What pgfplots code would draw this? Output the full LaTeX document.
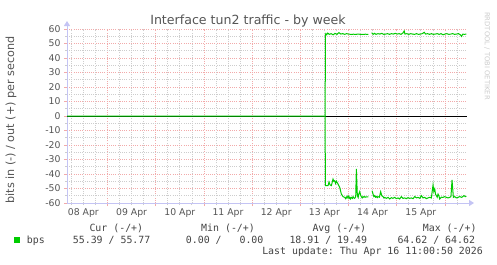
\documentclass[border=0pt]{standalone}
\usepackage{pgfplots}
\pgfplotsset{compat=1.18}
\usepackage{fontspec}
\setmainfont{DejaVu Sans}
\setmonofont{DejaVu Sans Mono}
\usetikzlibrary{arrows.meta}
\definecolor{rrdgreen}{HTML}{00CC00}
\definecolor{axiscol}{HTML}{C4C4F4}
\definecolor{mgridc}{HTML}{F2AAAA}
\definecolor{gridc}{HTML}{CDCDCD}
\definecolor{txt}{HTML}{555555}
\definecolor{legtxt}{HTML}{444444}
\definecolor{wm}{HTML}{CCCCCC}
\begin{document}
\begin{tikzpicture}[x=1bp,y=1bp]
\path[use as bounding box, fill=white] (0,0) rectangle (497,264);
\begin{axis}[
  at={(67bp,61bp)}, anchor=south west,
  scale only axis, width=400bp, height=174bp,
  xmin=-0.84, xmax=7.458, ymin=-60, ymax=60,
  axis lines=left,
  axis line style={draw=axiscol, line width=1bp},
  x axis line style={-{Triangle[length=5bp,width=6bp]}, shorten >=-7bp},
  y axis line style={-{Triangle[length=5bp,width=6bp]}, shorten >=-8bp},
  grid=both,
  major grid style={draw=mgridc, line width=0.7bp, dash pattern=on 1bp off 1.2bp},
  minor grid style={draw=gridc, line width=0.7bp, dash pattern=on 1bp off 1.2bp},
  xtick={0,1,2,3,4,5,6,7}, xticklabels={},
  minor xtick={-0.75,-0.5,-0.25,0.25,0.5,0.75,1.25,1.5,1.75,2.25,2.5,2.75,3.25,3.5,3.75,4.25,4.5,4.75,5.25,5.5,5.75,6.25,6.5,6.75,7.25},
  extra x ticks={-0.5,0.5,1.5,2.5,3.5,4.5,5.5,6.5},
  extra x tick labels={08 Apr,09 Apr,10 Apr,11 Apr,12 Apr,13 Apr,14 Apr,15 Apr},
  extra x tick style={grid=none, major tick length=0pt, xticklabel style={yshift=-2bp}},
  ytick={-60,-50,-40,-30,-20,-10,0,10,20,30,40,50,60},
  yticklabels={-60,-50,-40,-30,-20,-10,0,10,20,30,40,50,60},
  minor ytick={-55,-45,-35,-25,-15,-5,5,15,25,35,45,55},
  tick align=outside, major tick length=3bp, minor tick length=2bp,
  major tick style={draw=mgridc, line width=0.8bp},
  minor tick style={draw=gridc, line width=0.8bp},
  ticklabel style={font=\fontsize{9.3bp}{11bp}\selectfont, text=txt},
  unbounded coords=jump,
]
\addplot[black, line width=1bp] coordinates {(-0.84,0) (7.458,0)};
% in (-)
\addplot[rrdgreen, line width=1bp] coordinates {
(-0.84,0) (4.515,0) (4.519,-48) (4.575,-48) (4.595,-45.5) (4.616,-47.5) (4.644,-48) (4.678,-43.5) (4.695,-45) (4.713,-44.6) (4.73,-46.5) (4.748,-45) (4.782,-46.9) (4.817,-49.2) (4.851,-53.8) (4.886,-55.6) (4.920,-56.1) (4.94,-57) (4.955,-55.9) (4.97,-56.5) (4.990,-55) (5.01,-56.8) (5.024,-56) (5.04,-57.2) (5.059,-56.1) (5.08,-56.8) (5.093,-55.6) (5.11,-56.5) (5.128,-56.8) (5.149,-55.6) (5.163,-36.5) (5.183,-55) (5.20,-56.2) (5.211,-54) (5.232,-52.2) (5.25,-54.5) (5.266,-55.6) (5.283,-56.5) (5.301,-55.6) (5.32,-56) (5.336,-55.6) (5.355,-56) (5.370,-55.8) (5.41,-55.8) (5.44,nan)
(5.488,-51.5) (5.51,-54) (5.525,-55.5) (5.543,-54.9) (5.56,-56) (5.578,-55.5) (5.595,-56.3) (5.612,-55.6) (5.64,-56) (5.667,-52.2) (5.69,-55) (5.716,-55.6) (5.733,-56.5) (5.750,-56.1) (5.785,-56.8) (5.820,-56.1) (5.855,-57.2) (5.889,-56.3) (5.92,-56.8) (5.958,-56.1) (5.99,-57) (6.027,-56.5) (6.06,-57.2) (6.096,-55.6) (6.13,-56.8) (6.165,-56.5) (6.20,-57) (6.234,-56.3) (6.27,-56.8) (6.303,-56.5) (6.34,-57) (6.373,-55.5) (6.41,-56.5) (6.442,-56.1) (6.48,-56.8) (6.511,-54.9) (6.545,-56.5) (6.580,-56.1) (6.615,-57) (6.649,-56.5) (6.685,-56.1) (6.718,-56.5) (6.753,-47.6) (6.77,-52) (6.788,-50.3) (6.805,-54) (6.822,-54.9) (6.84,-56) (6.857,-53.8) (6.875,-55) (6.891,-57.2) (6.925,-56) (6.961,-56.1) (6.995,-55.6) (7.030,-56.1) (7.065,-56.5) (7.099,-56.1) (7.125,-55.6) (7.147,-44.1) (7.175,-56.1) (7.205,-55.6) (7.237,-56.5) (7.27,-56.1) (7.306,-55.6) (7.35,-56.1) (7.396,-54.9) (7.42,-55.6) (7.445,-55.4)
};
% out (+)
\addplot[rrdgreen, line width=1bp] coordinates {
(4.515,0) (4.52,56) (4.53,56.8) (4.545,56) (4.57,57.2) (4.60,56.3) (4.64,56.8) (4.68,56) (4.72,57) (4.76,56.3) (4.80,57.5) (4.84,56.5) (4.88,56.8) (4.92,56.3) (4.96,56.8) (5.00,56.5) (5.05,56.3) (5.10,56.4) (5.15,56.3) (5.20,56.5) (5.25,56.3) (5.30,56.3) (5.35,56.4) (5.41,56.3) (5.44,nan)
(5.48,57.5) (5.51,56.3) (5.54,57) (5.57,56.3) (5.61,56.8) (5.65,56.5) (5.69,57) (5.73,56.3) (5.77,56.5) (5.81,56.8) (5.85,56.3) (5.89,56.8) (5.93,56.5) (5.97,57) (6.01,56.5) (6.05,56.8) (6.09,56.3) (6.13,57.3) (6.155,58.7) (6.17,56.5) (6.21,56.8) (6.25,56.3) (6.29,56.8) (6.33,56.5) (6.37,56.3) (6.41,56.8) (6.45,56.3) (6.49,56.5) (6.53,56.8) (6.57,57.7) (6.60,56.5) (6.64,56.8) (6.68,56.3) (6.72,56.8) (6.76,56.3) (6.80,56.5) (6.84,56.8) (6.88,56.3) (6.92,56.8) (6.96,56) (7.00,56.5) (7.04,56.8) (7.08,56.3) (7.12,56.5) (7.16,56.8) (7.20,56.3) (7.24,56.5) (7.28,56.8) (7.32,56) (7.345,54.9) (7.37,56.5) (7.40,56.3) (7.445,56.5)
};
\end{axis}
\node[anchor=base, text=txt, font=\fontsize{12.6bp}{14bp}\selectfont, inner sep=0] at (248,240) {Interface tun2 traffic - by week};
\node[rotate=90, text=txt, font=\fontsize{11.2bp}{13bp}\selectfont, inner sep=0] at (11,144) {bits in (-) / out (+) per second};
\node[rotate=-90, text=wm, font=\fontsize{6.8bp}{8bp}\selectfont, inner sep=0] at (487,208) {RRDTOOL / TOBI OETIKER};
\begin{scope}[every node/.style={inner sep=0, text=legtxt, font=\fontsize{9.9bp}{12bp}\ttfamily\selectfont}]
\node[anchor=base west] at (89.3,33) {Cur (-/+)};
\node[anchor=base west] at (201,33) {Min (-/+)};
\node[anchor=base west] at (312.3,33) {Avg (-/+)};
\node[anchor=base west] at (422.7,33) {Max (-/+)};
\node[anchor=base west] at (26.7,20.7) {bps};
\node[anchor=base west] at (72.7,20.7) {55.39 / 55.77};
\node[anchor=base west] at (185.7,20.7) {0.00 /\ \ \ 0.00};
\node[anchor=base west] at (289.3,20.7) {18.91 / 19.49};
\node[anchor=base west] at (397.3,20.7) {64.62 / 64.62};
\node[anchor=base east] at (483,9.5) {Last update: Thu Apr 16 11:00:50 2026};
\end{scope}
\fill[rrdgreen] (14,20.7) rectangle (20,26.7);
\end{tikzpicture}
\end{document}
